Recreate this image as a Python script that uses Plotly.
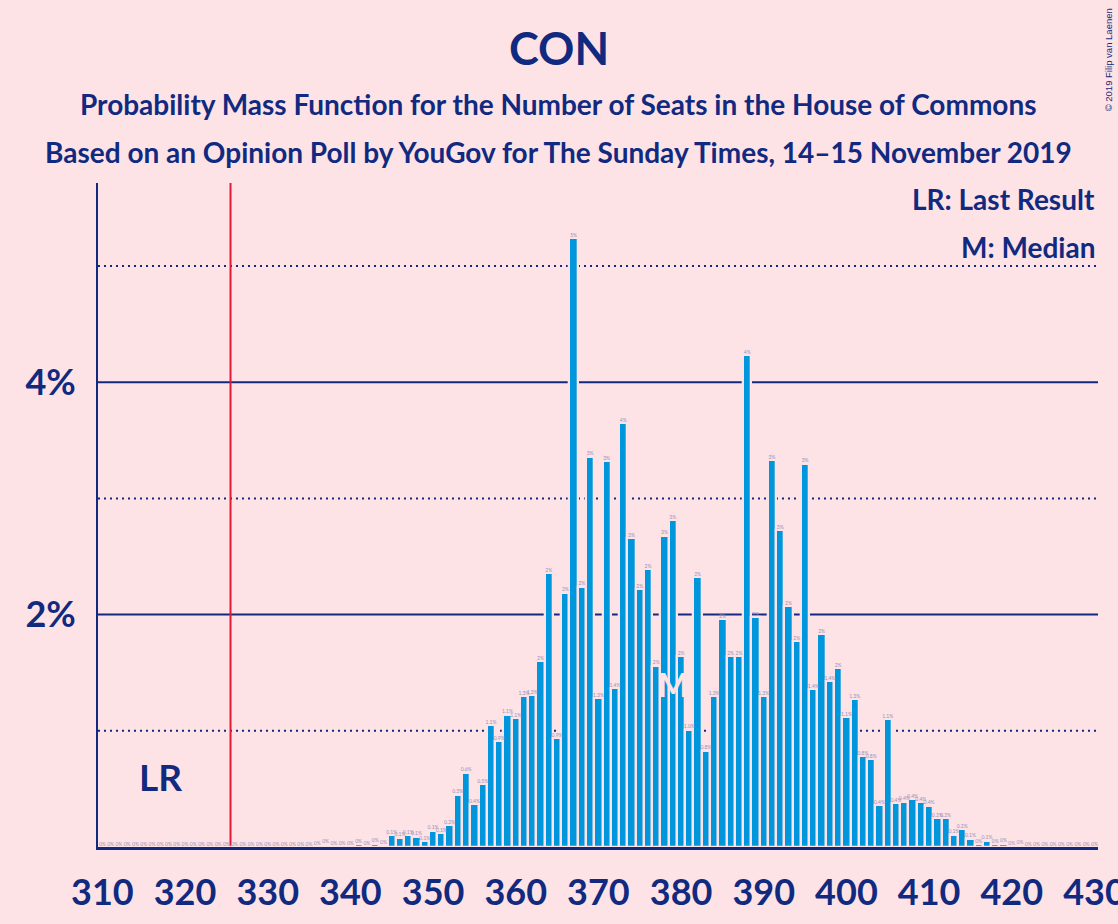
import plotly.graph_objects as go

# seats 310..430, probability in %
seats = list(range(310, 431))
probs = [
    0, 0, 0, 0, 0, 0, 0, 0, 0, 0,                                   # 310-319
    0, 0, 0, 0, 0, 0, 0, 0, 0, 0,                                   # 320-329
    0, 0, 0, 0, 0, 0, 0.01, 0.02, 0.01, 0.01,                       # 330-339
    0.01, 0.023, 0.01, 0.03, 0.015, 0.10, 0.08, 0.10, 0.09, 0.05,   # 340-349
    0.14, 0.12, 0.19, 0.45, 0.64, 0.37, 0.54, 1.05, 0.91, 1.14,     # 350-359
    1.11, 1.30, 1.31, 1.60, 2.36, 0.94, 2.19, 5.24, 2.24, 3.36,     # 360-369
    1.28, 3.32, 1.37, 3.65, 2.66, 2.22, 2.39, 1.56, 2.68, 2.81,     # 370-379
    1.64, 1.01, 2.32, 0.83, 1.30, 1.96, 1.64, 1.64, 4.23, 1.98,     # 380-389
    1.30, 3.33, 2.73, 2.07, 1.77, 3.30, 1.36, 1.83, 1.43, 1.54,     # 390-399
    1.12, 1.27, 0.78, 0.755, 0.36, 1.10, 0.38, 0.39, 0.41, 0.386,   # 400-409
    0.357, 0.25, 0.25, 0.107, 0.156, 0.072, 0.026, 0.055, 0.023, 0.03,  # 410-419
    0.005, 0.014, 0, 0, 0, 0, 0, 0, 0, 0,                           # 420-429
    0,                                                              # 430
]
x_ticks = list(range(310, 431, 10))
y_ticks = [2, 4]
y_tick_text = ["2%", "4%"]
solid_grid = [2, 4]
dotted_grid = [1, 3, 5]
majority = 325.5
last_result = 317
median = 379

BG = "#fde3e6"
NAVY = "#112a80"
BLUE = "#0096db"
RED = "#e21a37"
FONT = "Lato"

Y_MAX = 5.714
X_MIN, X_MAX = 309.47, 430.43


def fmt(v):
    if v < 0.05:
        return "0%"
    if v < 1.5:
        return f"{v:.1f}%"
    return f"{v:.0f}%"


fig = go.Figure()
fig.add_trace(go.Bar(
    x=seats, y=probs, marker=dict(color=BLUE, line=dict(color=BG, width=2.3)),
    width=1.0, hoverinfo="skip",
))
fig.add_trace(go.Scatter(
    x=seats, y=probs, mode="text", text=[fmt(v) for v in probs],
    textposition="top center", cliponaxis=False,
    textfont=dict(family=FONT, size=5, color="#9890b8"), hoverinfo="skip",
))

shapes = []
for g in dotted_grid:
    shapes.append(dict(type="line", xref="paper", x0=0, x1=1, yref="y", y0=g, y1=g,
                       line=dict(color=NAVY, width=2, dash="2px,4px"), layer="below"))
for g in solid_grid:
    shapes.append(dict(type="line", xref="paper", x0=0, x1=1, yref="y", y0=g, y1=g,
                       line=dict(color=NAVY, width=2), layer="below"))
shapes.append(dict(type="line", xref="x", x0=majority, x1=majority, yref="y", y0=0, y1=Y_MAX,
                   line=dict(color=RED, width=2), layer="below"))

H0, H1 = 847.3, 183.0


def py(ypx):
    return (H0 - ypx) / (H0 - H1)


def px(xpx):
    return (xpx - 98.3) / 999.4


ann = [
    dict(text="<b>CON</b>", x=px(559), y=py(48), size=45),
    dict(text="<b>Probability Mass Function for the Number of Seats in the House of Commons</b>",
         x=px(559), y=py(104), size=28),
    dict(text="<b>Based on an Opinion Poll by YouGov for The Sunday Times, 14–15 November 2019</b>",
         x=px(559), y=py(152), size=28),
]
annotations = []
for a in ann:
    annotations.append(dict(text=a["text"], xref="paper", yref="paper", x=a["x"], y=a["y"],
                            xanchor="center", yanchor="middle", showarrow=False,
                            font=dict(family=FONT, size=a["size"], color=NAVY)))
for txt, ypx in [("<b>LR: Last Result</b>", 199), ("<b>M: Median</b>", 247)]:
    annotations.append(dict(text=txt, xref="paper", yref="paper", x=px(1097), y=py(ypx),
                            xanchor="right", yanchor="middle", showarrow=False,
                            font=dict(family=FONT, size=28, color=NAVY)))
annotations.append(dict(text="<b>LR</b>", xref="x", yref="y", x=last_result, y=0.605,
                        xanchor="center", yanchor="middle", showarrow=False,
                        font=dict(family=FONT, size=37, color=NAVY)))
annotations.append(dict(text="<b>M</b>", xref="x", yref="y", x=median, y=1.40,
                        xanchor="center", yanchor="middle", showarrow=False,
                        font=dict(family=FONT, size=32, color=BG)))
annotations.append(dict(text="© 2019 Filip van Laenen", xref="paper", yref="paper",
                        x=px(1108), y=py(60), textangle=-90, xanchor="center", yanchor="middle",
                        showarrow=False, font=dict(family="Liberation Sans", size=9.5, color=NAVY)))

fig.update_layout(
    width=1118, height=924,
    margin=dict(l=98.3, r=20.3, t=183, b=76.7, pad=0),
    paper_bgcolor=BG, plot_bgcolor=BG,
    bargap=0, showlegend=False,
    shapes=shapes, annotations=annotations,
    xaxis=dict(range=[X_MIN, X_MAX], tickvals=x_ticks, ticktext=[f"<b>{t}</b>" for t in x_ticks],
               showgrid=False, zeroline=False, automargin=False, ticklabeloverflow="allow",
               showline=True, linecolor=NAVY, linewidth=3, ticks="", ticklabelstandoff=12,
               tickfont=dict(family=FONT, size=36, color=NAVY)),
    yaxis=dict(range=[0, Y_MAX], tickvals=y_ticks, ticktext=[f"<b>{t}</b>" for t in y_tick_text],
               showgrid=False, zeroline=False, showline=True, linecolor=NAVY, linewidth=2,
               automargin=False, ticks="", ticklabelstandoff=13,
               tickfont=dict(family=FONT, size=36, color=NAVY)),
)

fig.write_html("out.html", config={"displayModeBar": False},
               post_script="document.body.style.margin='0';")
